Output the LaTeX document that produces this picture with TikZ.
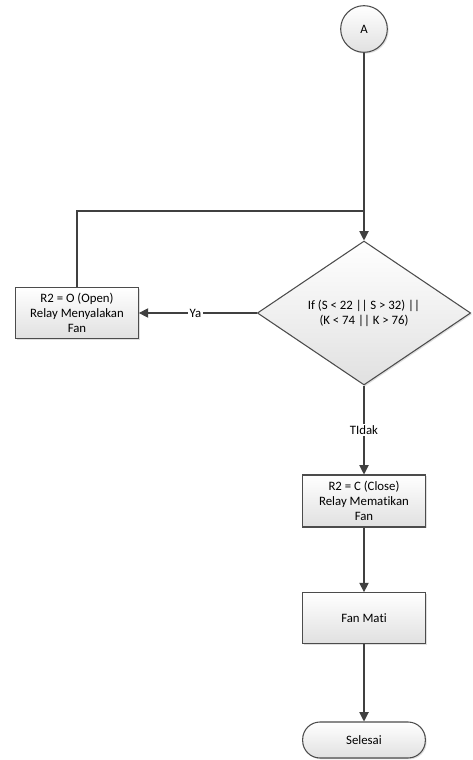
\documentclass[tikz,border=0pt]{standalone}
\usepackage{fontspec}
\setmainfont{Carlito}[Ligatures = {NoCommon}]
\usetikzlibrary{shapes.geometric,arrows.meta,shadows}
\begin{document}
\begin{tikzpicture}[x = 0.75pt, y = -0.75pt, >={Triangle[length=7pt, width=7pt]},
	line/.style = {draw = black!75, line width = 0.8pt},
	box/.style = {draw = black!70, line width = 0.8pt, top color = white, bottom color = black!12, drop shadow = {shadow xshift = 1pt, shadow yshift = -1pt, opacity = 0.25}, minimum width = 92pt, align = center, font = \fontsize{9.6}{11.4}\selectfont},
	lbl/.style = {fill = white, inner sep = 1pt, font = \fontsize{9.6}{11.4}\selectfont}]
	\useasboundingbox (0, 0) rectangle (472, 760);
					\node (a) at (364, 29) [box, circle, minimum width = 35pt, inner sep = 0pt] {A};
					\coordinate (join) at (364, 211);
					\node (cond) at (364, 313) [box, diamond, minimum width = 160pt, minimum height = 108pt, inner sep = 0pt, aspect = 1.48] {If (S < 22 || S > 32) ||\\(K < 74 || K > 76)};
					\node (relayon) at (77, 313) [box, minimum height = 38pt] {R2 = O (Open)\\Relay Menyalakan\\Fan};
					\node (relayoff) at (364, 501) [box, minimum height = 39pt] {R2 = C (Close)\\Relay Mematikan\\Fan};
					\node (fanoff) at (364, 618) [box, minimum height = 38pt] {Fan Mati};
					\node (stop) at (364, 740) [box, rounded corners = 13pt, minimum height = 27pt] {Selesai};
						\draw[line, ->] (a) -- (cond);
						\draw[line] (relayon) |- (join);
						\draw[line, ->] (cond) -- node[lbl, pos = 0.52] {Ya} (relayon);
						\draw[line, ->] (cond) -- node[lbl] {TIdak} (relayoff);
						\draw[line, ->] (relayoff) -- (fanoff);
						\draw[line, ->] (fanoff) -- (stop);
				\end{tikzpicture}
\end{document}
